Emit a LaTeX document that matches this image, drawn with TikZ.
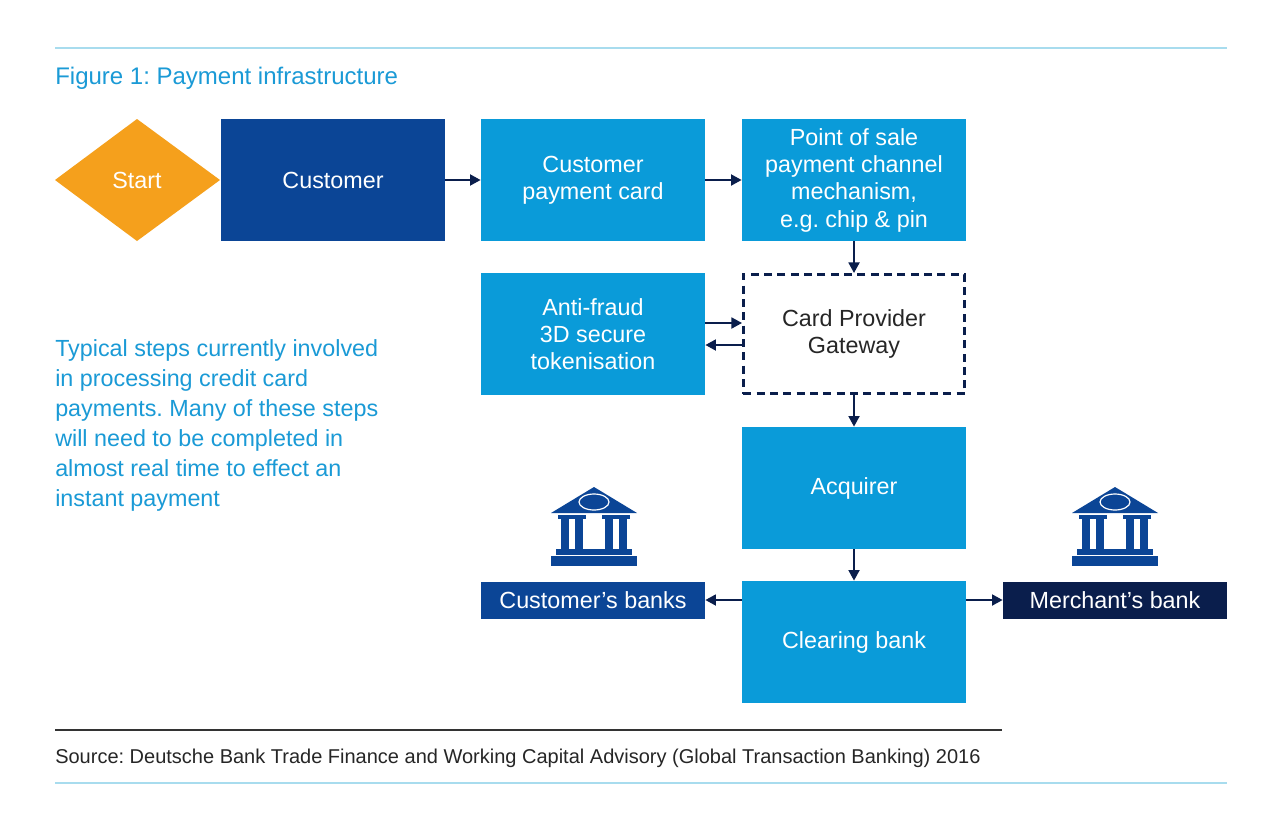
\documentclass[tikz,border=0pt]{standalone}
\usepackage{fontspec}
\setmainfont{Liberation Sans}
\frenchspacing
\usetikzlibrary{arrows.meta}
\definecolor{lb}{HTML}{0A9BD9}
\definecolor{db}{HTML}{0B4596}
\definecolor{nv}{HTML}{0A1E4C}
\definecolor{og}{HTML}{F5A01C}
\definecolor{tb}{HTML}{1A9AD6}
\definecolor{ln}{HTML}{A8DCEE}
\begin{document}
\begin{tikzpicture}[x=0.75pt,y=-0.75pt,
 box/.style={fill=lb,minimum width=168pt,minimum height=91.5pt,text=white,align=center,font=\fontsize{17.5}{20.5}\selectfont,inner sep=0},
 bank/.style={minimum width=168pt,minimum height=27.75pt,text=white,font=\fontsize{17.5}{20}\selectfont,inner sep=0},
 arr/.style={-{Triangle[length=8pt,width=8pt]},line width=2pt,nv}]
\useasboundingbox (0,0) rectangle (1280,828);
\fill[white] (0,0) rectangle (1280,828);
\draw[ln,line width=0.9pt] (55,48) -- (1227,48);
\draw[ln,line width=0.9pt] (55,783) -- (1227,783);
\draw[black!80,line width=0.9pt] (55,730) -- (1002,730);
\node[anchor=west,text=tb,font=\fontsize{18}{20}\selectfont,inner sep=0] (title) at (55,78) {Figure 1: Payment infrastructure};
\node[anchor=north west,text=tb,align=left,font=\fontsize{17.5}{22.6}\selectfont,inner sep=0] (para) at (55,339) {Typical steps currently involved\\in processing credit card\\payments. Many of these steps\\will need to be completed in\\almost real time to effect an\\instant payment};
\node[anchor=west,text=black!85,font=\fontsize{15}{16}\selectfont,inner sep=0] (src) at (55,758) {Source: Deutsche Bank Trade Finance and Working Capital Advisory (Global Transaction Banking) 2016};
\fill[og] (55,180) -- (137,119) -- (220,180) -- (137,241) -- cycle;
\node[text=white,font=\fontsize{17.5}{20}\selectfont] (start) at (137,180) {Start};
\node[box,fill=db] (cust) at (333,180) {Customer};
\node[box] (card) at (593,180) {Customer\\payment card};
\node[box] (pos) at (854,180) {Point of sale\\payment channel\\mechanism,\\e.g. chip \& pin};
\node[box] (af) at (593,334) {Anti-fraud\\3D secure\\tokenisation};
\node[box,fill=white,draw=nv,dashed,line width=1.8pt,dash pattern=on 6pt off 4pt,text=black!85,minimum width=166pt,minimum height=89.5pt] (gw) at (854,334) {Card Provider\\Gateway};
\node[box] (acq) at (854,488) {Acquirer};
\node[box] (clr) at (854,642) {Clearing bank};
\node[bank,fill=db] (cb) at (593,600) {Customer’s banks};
\node[bank,fill=nv] (mb) at (1115,600) {Merchant’s bank};
\draw[arr] (cust.east) -- (card.west);
\draw[arr] (card.east) -- (pos.west);
\draw[arr] (pos.south) -- (gw.north);
\draw[arr] (gw.west|-0,345) -- (af.east|-0,345);
\draw[arr] (af.east|-0,323) -- (gw.west|-0,323);
\draw[arr] (gw.south) -- (acq.north);
\draw[arr] (acq.south) -- (clr.north);
\draw[arr] (clr.west|-cb) -- (cb.east);
\draw[arr] (clr.east|-mb) -- (mb.west);
\foreach \cx in {594,1115}{
 \begin{scope}[shift={(\cx,0)}]
 \fill[db] (-43,513) -- (0,487) -- (43,513) -- cycle;
 \draw[white,line width=0.9pt] (0,502) ellipse (15 and 8);
 \fill[db] (-33,516) rectangle (-25,549);
 \fill[db] (-19,516) rectangle (-11,549);
 \fill[db] (11,516) rectangle (19,549);
 \fill[db] (25,516) rectangle (33,549);
 \fill[db] (-36,515) rectangle (-8,519);
 \fill[db] (8,515) rectangle (36,519);
 \fill[db] (-38,549) rectangle (38,555);
 \fill[db] (-43,556) rectangle (43,566);
 \end{scope}}
\end{tikzpicture}
\end{document}
